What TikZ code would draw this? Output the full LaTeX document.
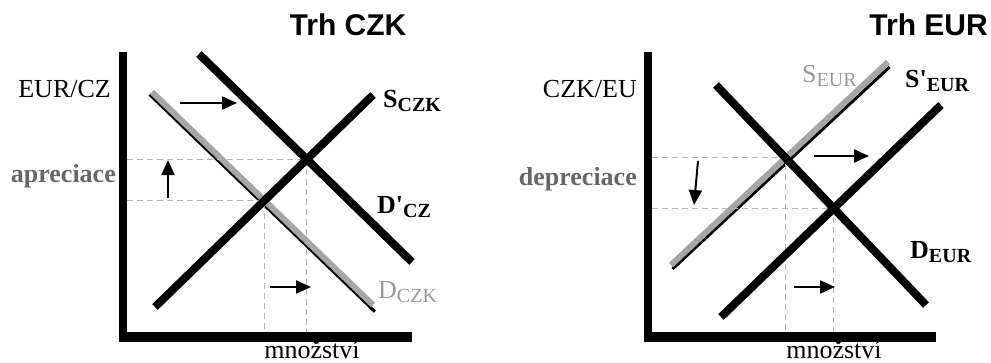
\documentclass[tikz,border=0pt]{standalone}
\usepackage{fontspec}
\setmainfont{Liberation Serif}[Ligatures=TeXOff]
\newfontfamily\titlefont{Liberation Sans}
\usetikzlibrary{arrows.meta}

\definecolor{oldline}{HTML}{A6A6A6}
\definecolor{oldtext}{HTML}{999999}
\definecolor{movetext}{HTML}{666666}
\definecolor{guidegray}{HTML}{B4B4B4}

% a letter followed by a lowered, smaller subscript in capitals
\newcommand{\curvename}[2]{#1{\fontsize{20}{20}\selectfont\raisebox{-4pt}{#2}}}

\begin{document}
\begin{tikzpicture}[x=1pt,y=-1pt,
  xaxis/.style={line width=10pt},
  yaxis/.style={line width=8pt},
  curve/.style={line width=8pt},
  oldcurve/.style={line width=6pt, draw=oldline},
  oldedge/.style={line width=3pt},
  guide/.style={draw=guidegray, line width=1pt, dash pattern=on 6pt off 4pt},
  shiftarrow/.style={line width=2pt, -{Triangle[length=15pt,width=13pt]}},
  lbl/.style={font=\fontsize{26}{26}\selectfont, inner sep=0pt},
  title/.style={font=\titlefont\bfseries\fontsize{30}{30}\selectfont, inner sep=0pt}
]
\useasboundingbox (0,0) rectangle (991,362);

% ---------------- market for CZK ----------------
\node[title, anchor=base] (t1) at (348,35) {Trh CZK};

\coordinate (y1top) at (123,52);
\coordinate (y1bot) at (123,341);
\coordinate (x1left) at (119,337);
\coordinate (x1right) at (412,337);
\draw[yaxis] (y1top) -- (y1bot);
\draw[xaxis] (x1left) -- (x1right);

% curves
\coordinate (S1a) at (155,307);  \coordinate (S1b) at (373,95);
\coordinate (Dn1a) at (199,54);  \coordinate (Dn1b) at (412,262);
\coordinate (Do1a) at (152,92);  \coordinate (Do1b) at (373,305);
\coordinate (Do1sa) at (149.6,94.5); \coordinate (Do1sb) at (374.9,311.7);

\draw[oldedge] (Do1sa) -- (Do1sb);
\draw[oldcurve] (Do1a) -- (Do1b);

% equilibria and guide lines
\coordinate (E1new) at (intersection of S1a--S1b and Dn1a--Dn1b);
\coordinate (E1old) at (intersection of S1a--S1b and Do1a--Do1b);
\coordinate (g1a) at (127,0 |- E1new);
\coordinate (g1b) at (127,0 |- E1old);
\coordinate (g1c) at (E1new |- 0,332);
\coordinate (g1d) at (E1old |- 0,332);
\draw[guide] (g1a) -- (E1new) -- (g1c);
\draw[guide] (g1b) -- (E1old) -- (g1d);

\draw[curve] (S1a) -- (S1b);
\draw[curve] (Dn1a) -- (Dn1b);

% shift arrows
\coordinate (a1s) at (180,103); \coordinate (a1e) at (237,103);
\coordinate (a2s) at (168,198); \coordinate (a2e) at (168,160);
\coordinate (a3s) at (270,287); \coordinate (a3e) at (311,287);
\draw[shiftarrow] (a1s) -- (a1e);
\draw[shiftarrow] (a2s) -- (a2e);
\draw[shiftarrow] (a3s) -- (a3e);

% labels
\node[lbl, anchor=base east] (ly1) at (111,97) {EUR/CZ};
\node[lbl, anchor=base east, text=movetext] (lm1) at (116,182) {\bfseries apreciace};
\node[lbl, anchor=base west] (lS1) at (383,107) {\bfseries\curvename{S}{CZK}};
\node[lbl, anchor=base west] (lDn1) at (377,213) {\bfseries\curvename{D'}{CZ}};
\node[lbl, anchor=base west, text=oldtext] (lDo1) at (378,298) {\curvename{D}{CZK}};
\node[lbl, anchor=base] (lx1) at (312,358) {množství};

% ---------------- market for EUR ----------------
\node[title, anchor=base east] (t2) at (988,35) {Trh EUR};

\coordinate (y2top) at (648,52);
\coordinate (y2bot) at (648,341);
\coordinate (x2left) at (644,337);
\coordinate (x2right) at (936,337);
\draw[yaxis] (y2top) -- (y2bot);
\draw[xaxis] (x2left) -- (x2right);

\coordinate (So2a) at (671,265);  \coordinate (So2b) at (888,62);
\coordinate (So2sa) at (672.5,269); \coordinate (So2sb) at (889.5,67);
\coordinate (Sn2a) at (721,317);  \coordinate (Sn2b) at (941,105);
\coordinate (D2a) at (716,85);    \coordinate (D2b) at (926,305);

\draw[oldedge] (So2sa) -- (So2sb);
\draw[oldcurve] (So2a) -- (So2b);

\coordinate (E2old) at (intersection of So2a--So2b and D2a--D2b);
\coordinate (E2new) at (intersection of Sn2a--Sn2b and D2a--D2b);
\coordinate (g2a) at (652,0 |- E2old);
\coordinate (g2b) at (652,0 |- E2new);
\coordinate (g2c) at (E2old |- 0,332);
\coordinate (g2d) at (E2new |- 0,332);
\draw[guide] (g2a) -- (E2old) -- (g2c);
\draw[guide] (g2b) -- (E2new) -- (g2d);

\draw[curve] (Sn2a) -- (Sn2b);
\draw[curve] (D2a) -- (D2b);

\coordinate (b1s) at (698,161); \coordinate (b1e) at (694,205);
\coordinate (b2s) at (814,156); \coordinate (b2e) at (869,156);
\coordinate (b3s) at (794,287); \coordinate (b3e) at (835,287);
\draw[shiftarrow] (b1s) -- (b1e);
\draw[shiftarrow] (b2s) -- (b2e);
\draw[shiftarrow] (b3s) -- (b3e);

\node[lbl, anchor=base east] (ly2) at (637,97) {CZK/EU};
\node[lbl, anchor=base east, text=movetext] (lm2) at (637,185) {\bfseries depreciace};
\node[lbl, anchor=base west, text=oldtext] (lSo2) at (802,82) {\curvename{S}{EUR}};
\node[lbl, anchor=base west] (lSn2) at (905,87) {\bfseries\curvename{S'}{EUR}};
\node[lbl, anchor=base west] (lD2) at (910,258) {\bfseries\curvename{D}{EUR}};
\node[lbl, anchor=base] (lx2) at (834,358) {množství};
\end{tikzpicture}
\end{document}
